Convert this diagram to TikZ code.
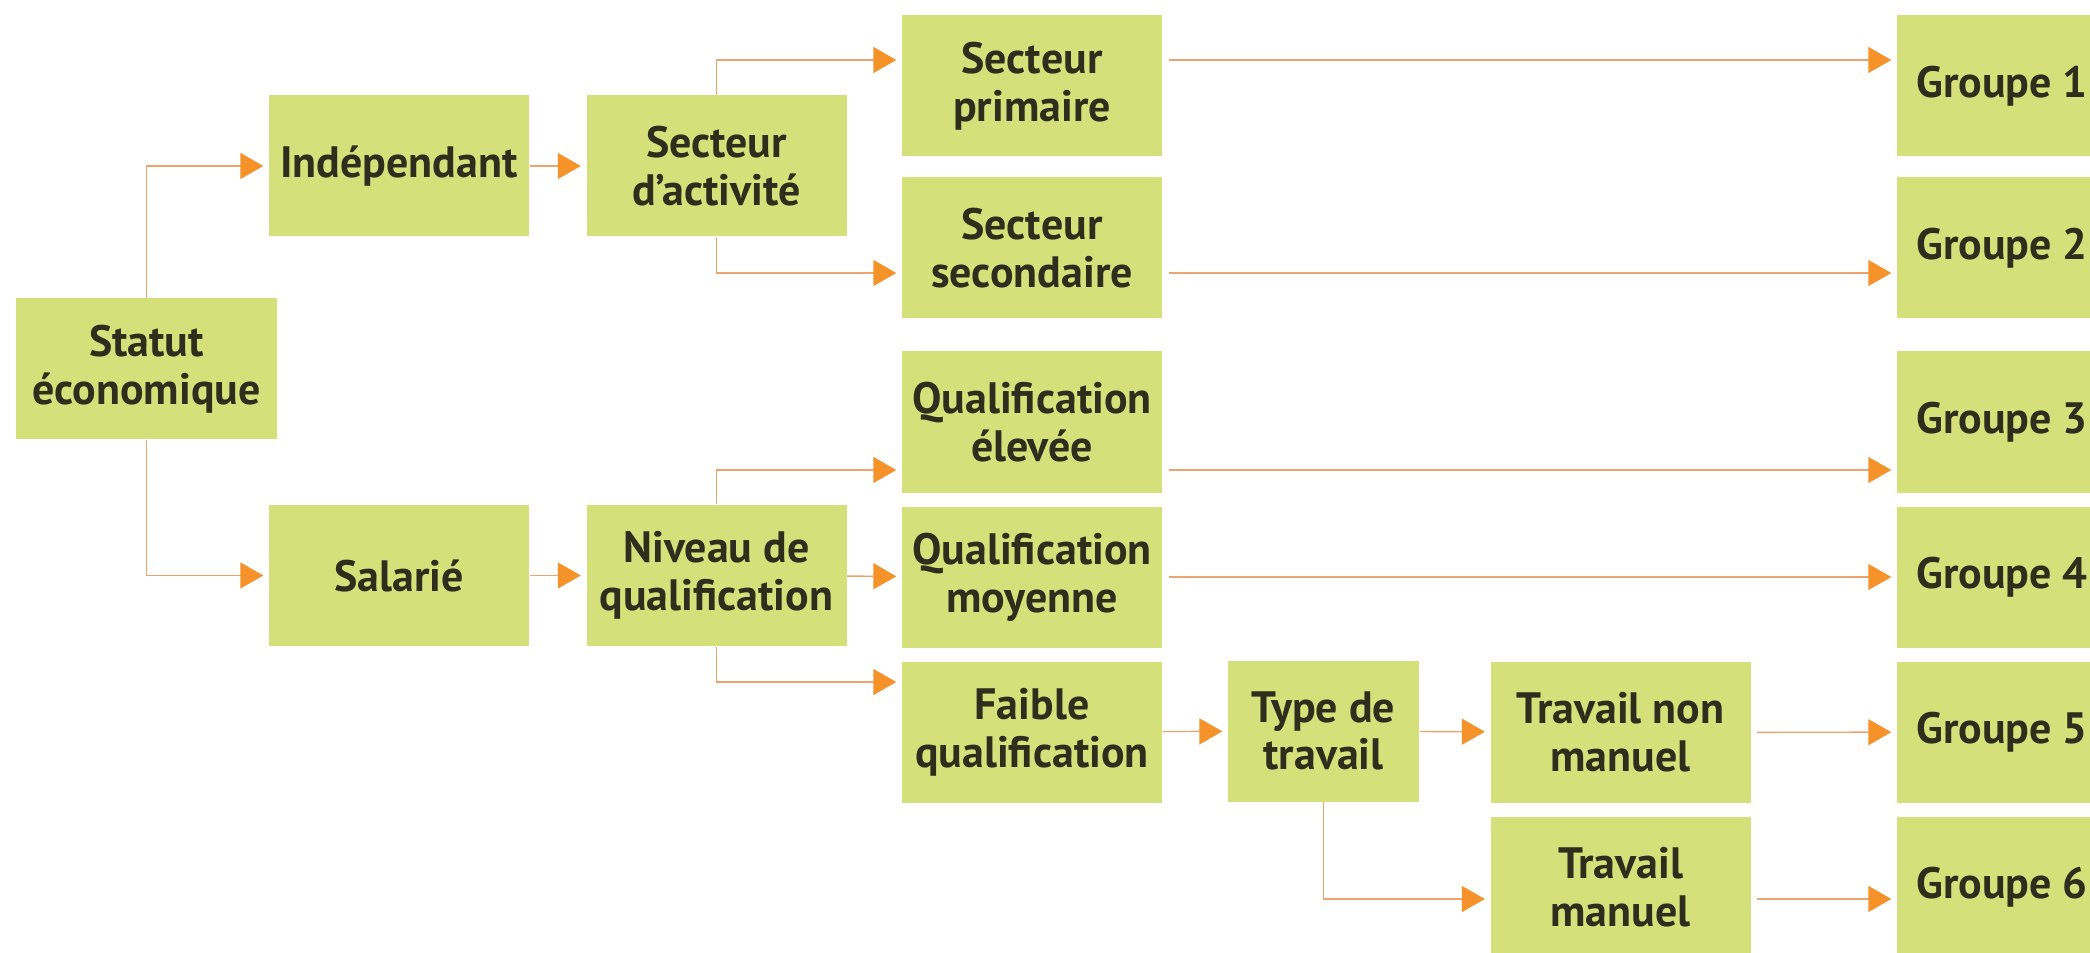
\documentclass[tikz,border=0pt]{standalone}
\usepackage{fontspec}
\setmainfont{PT Sans}
\usepackage{tikz}
\usetikzlibrary{arrows.meta, positioning}
\definecolor{boxgreen}{HTML}{D4E17A}
\definecolor{lineorange}{HTML}{EBA46C}
\definecolor{tiporange}{HTML}{F5922A}
\definecolor{textdark}{HTML}{2E2E1C}
\tikzset{
  box/.style={rectangle, fill=boxgreen, text=textdark, align=center, inner sep=0pt,
    minimum width=2.6cm, minimum height=1.41cm, font=\bfseries\fontsize{12.5}{13.6}\selectfont},
  ->, >={Triangle[length=2.3mm, width=2.6mm, color=tiporange]},
  shorten >=0.5mm, line width=1.6pt
}

\begin{document}
\begin{tikzpicture}
\useasboundingbox (0,0) rectangle (20.9,-9.53);
\node[box] (statut) at (1.465,-3.69) {Statut\\économique};
\node[box] (indep) at (3.99,-1.66) {Indépendant};
\node[box] (secteur) at (7.165,-1.66) {Secteur\\d’activité};
\node[box] (salarie) at (3.99,-5.755) {Salarié};
\node[box] (niveau) at (7.165,-5.755) {Niveau de\\qualification};
\node[box] (primaire) at (10.32,-0.86) {Secteur\\primaire};
\node[box] (secondaire) at (10.32,-2.48) {Secteur\\secondaire};
\node[box] (elevee) at (10.32,-4.22) {Qualification\\élevée};
\node[box] (moyenne) at (10.32,-5.77) {Qualification\\moyenne};
\node[box] (faible) at (10.32,-7.32) {Faible\\qualification};
\node[box, minimum width=1.91cm] (type) at (13.235,-7.31) {Type de\\travail};
\node[box] (nonmanuel) at (16.205,-7.325) {Travail non\\manuel};
\node[box] (manuel) at (16.205,-8.87) {Travail\\manuel};
\node[box, minimum width=2.1cm] (g1) at (20.02,-0.86) {Groupe 1};
\node[box, minimum width=2.1cm] (g2) at (20.02,-2.48) {Groupe 2};
\node[box, minimum width=2.1cm] (g3) at (20.02,-4.22) {Groupe 3};
\node[box, minimum width=2.1cm] (g4) at (20.02,-5.77) {Groupe 4};
\node[box, minimum width=2.1cm] (g5) at (20.02,-7.32) {Groupe 5};
\node[box, minimum width=2.1cm] (g6) at (20.02,-8.87) {Groupe 6};

\draw[lineorange] (statut.north) |- (indep.west);
\draw[lineorange] (statut.south) |- (salarie.west);
\draw[lineorange] (indep) -- (secteur);
\draw[lineorange] (salarie) -- (niveau);
\draw[lineorange] (secteur.north) |- ([yshift=0.26cm]primaire.west);
\draw[lineorange] (secteur.south) |- ([yshift=-0.25cm]secondaire.west);
\draw[lineorange] (niveau.north) |- ([yshift=-0.48cm]elevee.west);
\draw[lineorange] (niveau) -- (moyenne);
\draw[lineorange] (niveau.south) |- ([yshift=0.5cm]faible.west);
\draw[lineorange] (faible) -- (type);
\draw[lineorange] (type) -- (nonmanuel);
\draw[lineorange] (type.south) |- ([yshift=-0.12cm]manuel.west);

\draw[lineorange, shorten <=0.6mm] ([yshift=0.26cm]primaire.east) -- ([yshift=0.26cm]g1.west);
\draw[lineorange, shorten <=0.6mm] ([yshift=-0.25cm]secondaire.east) -- ([yshift=-0.25cm]g2.west);
\draw[lineorange, shorten <=0.6mm] ([yshift=-0.48cm]elevee.east) -- ([yshift=-0.48cm]g3.west);
\draw[lineorange, shorten <=0.6mm] (moyenne) -- (g4);
\draw[lineorange, shorten <=0.6mm] (nonmanuel) -- (g5);
\draw[lineorange, shorten <=0.6mm] ([yshift=-0.12cm]manuel.east) -- ([yshift=-0.12cm]g6.west);
\end{tikzpicture}
\end{document}
